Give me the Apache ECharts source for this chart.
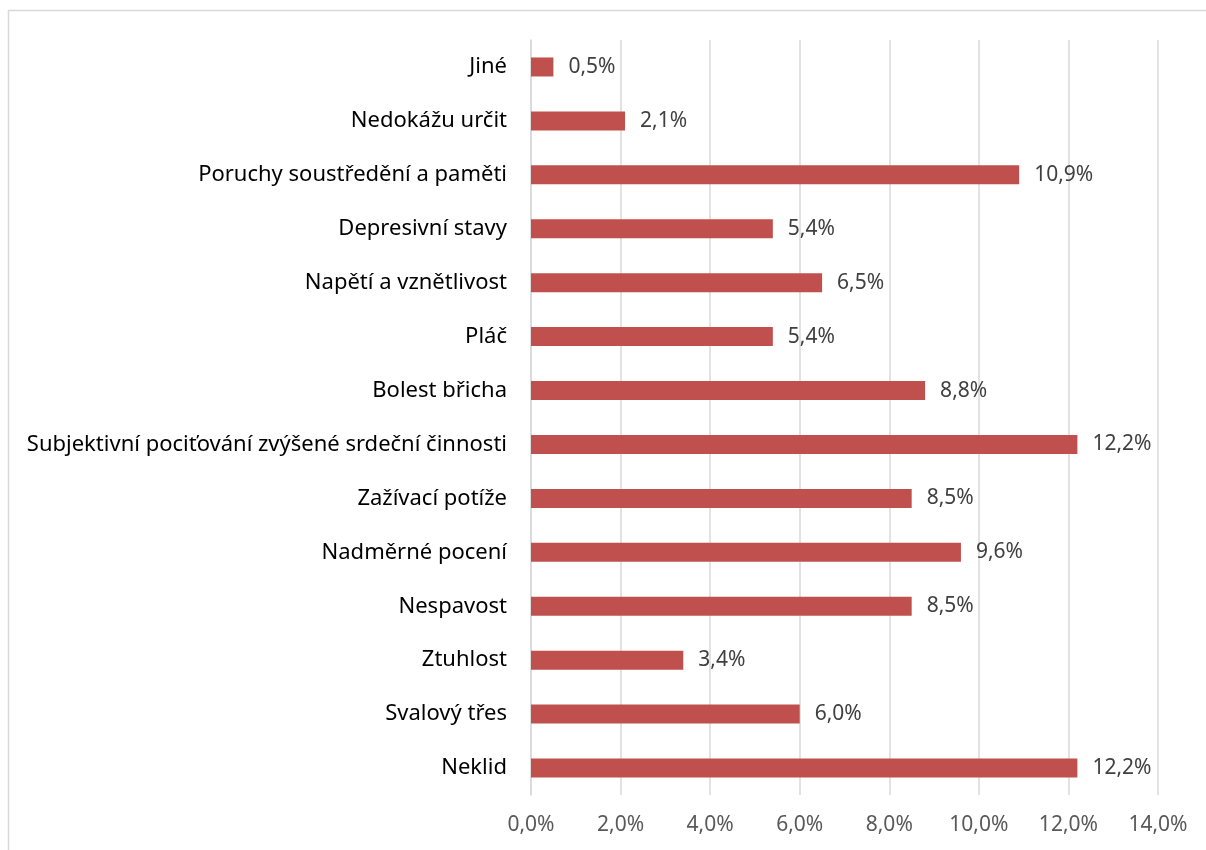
<!DOCTYPE html>
<html>
<head>
<meta charset="utf-8">
<script src="https://cdn.jsdelivr.net/npm/echarts@6/dist/echarts.min.js"></script>
<style>
  html, body { margin: 0; padding: 0; background: #fff; }
  #chart { width: 1206px; height: 850px; }
</style>
</head>
<body>
<div id="chart"></div>
<script>
// kategorie odshora dolů (jak v obrázku)
var categories = [
    'Jiné',
    'Nedokážu určit',
    'Poruchy soustředění a paměti',
    'Depresivní stavy',
    'Napětí a vznětlivost',
    'Pláč',
    'Bolest břicha',
    'Subjektivní pociťování zvýšené srdeční činnosti',
    'Zažívací potíže',
    'Nadměrné pocení',
    'Nespavost',
    'Ztuhlost',
    'Svalový třes',
    'Neklid'
];
var values = [0.5, 2.1, 10.9, 5.4, 6.5, 5.4, 8.8, 12.2, 8.5, 9.6, 8.5, 3.4, 6.0, 12.2];
var axisMax = 14;
var axisStep = 2;

function fmt(v) {
    return v.toFixed(1).replace('.', ',') + '%';
}

var chart = echarts.init(document.getElementById('chart'));

var option = {
    backgroundColor: '#fff',
    animation: false,
    textStyle: { fontFamily: 'Noto Sans' },
    // okraj grafu - jen horní a levá hrana jsou vidět
    graphic: [{
        type: 'rect',
        shape: { x: 8.5, y: 10.5, width: 1220, height: 860 },
        style: { fill: 'none', stroke: '#d9d9d9', lineWidth: 1.5 },
        silent: true
    }],
    grid: { left: 531, right: 48, top: 40, bottom: 55, containLabel: false },
    xAxis: {
        type: 'value',
        min: 0,
        max: axisMax,
        interval: axisStep,
        axisLine: { show: false },
        axisTick: { show: false },
        splitLine: { lineStyle: { color: '#d9d9d9', width: 1.5 } },
        axisLabel: {
            color: '#595959',
            fontSize: 21,
            margin: 20,
            formatter: function (v) { return fmt(v); }
        }
    },
    yAxis: {
        type: 'category',
        inverse: true,
        data: categories,
        axisLine: { show: true, lineStyle: { color: '#d9d9d9', width: 1.5 } },
        axisTick: { show: false },
        axisLabel: { color: '#000', fontSize: 22, margin: 24 }
    },
    series: [{
        type: 'bar',
        data: values,
        barWidth: 19,
        itemStyle: { color: '#c0504d' },
        label: {
            show: true,
            position: 'right',
            distance: 15,
            color: '#404040',
            fontSize: 21,
            formatter: function (p) { return fmt(p.value); }
        }
    }]
};

chart.setOption(option);
</script>
</body>
</html>
